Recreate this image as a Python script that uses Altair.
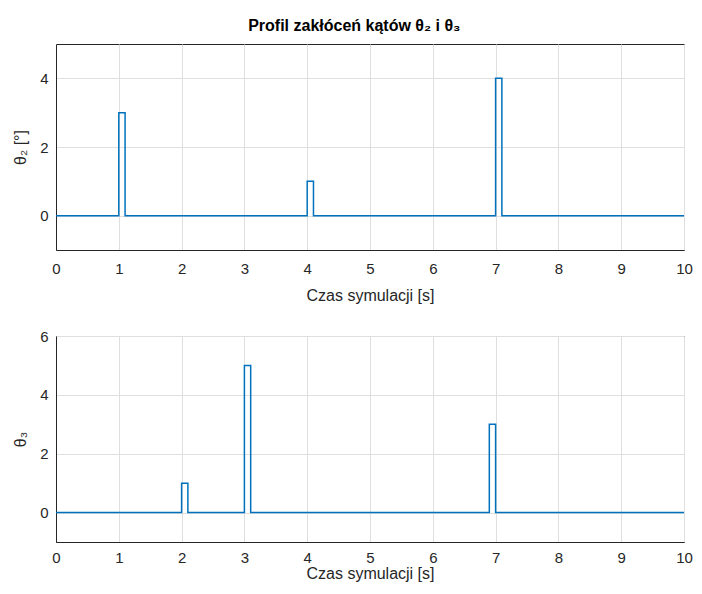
import altair as alt
import pandas as pd

# top panel: theta2 pulses
t2_start = [1.0, 4.0, 7.0]
t2_end = [1.1, 4.1, 7.1]
t2_amp = [3, 1, 4]
# bottom panel: theta3 pulses
t3_start = [2.0, 3.0, 6.9]
t3_end = [2.1, 3.1, 7.0]
t3_amp = [1, 5, 3]
t_min, t_max = 0, 10

def step_df(starts, ends, amps):
    t = [t_min]
    v = [0]
    for s, e, a in zip(starts, ends, amps):
        t += [s, e]
        v += [a, 0]
    t.append(t_max)
    v.append(0)
    return pd.DataFrame({"t": t, "v": v})

df2 = step_df(t2_start, t2_end, t2_amp)
df3 = step_df(t3_start, t3_end, t3_amp)

FONT = "Liberation Sans"
BLUE = "#0072BD"
DARK = "#262626"

def panel(df, ydom, yvals, ytitle, lpad, tpad):
    return alt.Chart(df).mark_line(
        interpolate="step-after", color=BLUE, strokeWidth=1.5
    ).encode(
        x=alt.X("t:Q", scale=alt.Scale(domain=[0, 10], nice=False, zero=False),
                axis=alt.Axis(values=list(range(0, 11)), title="Czas symulacji [s]",
                              ticks=False, labelPadding=lpad, titlePadding=tpad,
                              labelFlush=False)),
        y=alt.Y("v:Q", scale=alt.Scale(domain=ydom, nice=False, zero=False),
                axis=alt.Axis(values=yvals, title=ytitle, ticks=False,
                              labelPadding=8, titlePadding=11, labelFlush=False)),
    ).properties(width=628, height=206)

top = panel(df2, [-1, 5], [0, 2, 4], "θ₂ [°]", 11, 11)
bot = panel(df3, [-1, 6], [0, 2, 4, 6], "θ₃", 8, 0)

chart = alt.vconcat(top, bot, spacing=86, bounds="flush").properties(
    title=alt.Title("Profil zakłóceń kątów θ₂ i θ₃", fontSize=16, fontWeight="bold",
                    font=FONT, color="#000000", anchor="start", dx=236, offset=10),
    padding={"left": 4, "top": 9, "right": 0, "bottom": 0},
    background="white",
).configure_view(
    stroke=DARK, strokeWidth=1
).configure_axis(
    labelFont=FONT, titleFont=FONT, labelFontSize=15, titleFontSize=16,
    labelColor=DARK, titleColor=DARK, titleFontWeight="normal",
    gridColor="#dfdfdf", gridWidth=1, domain=True, domainColor=DARK, domainWidth=1,
)

chart.save("out.html", embed_options={"renderer": "svg", "actions": False})
